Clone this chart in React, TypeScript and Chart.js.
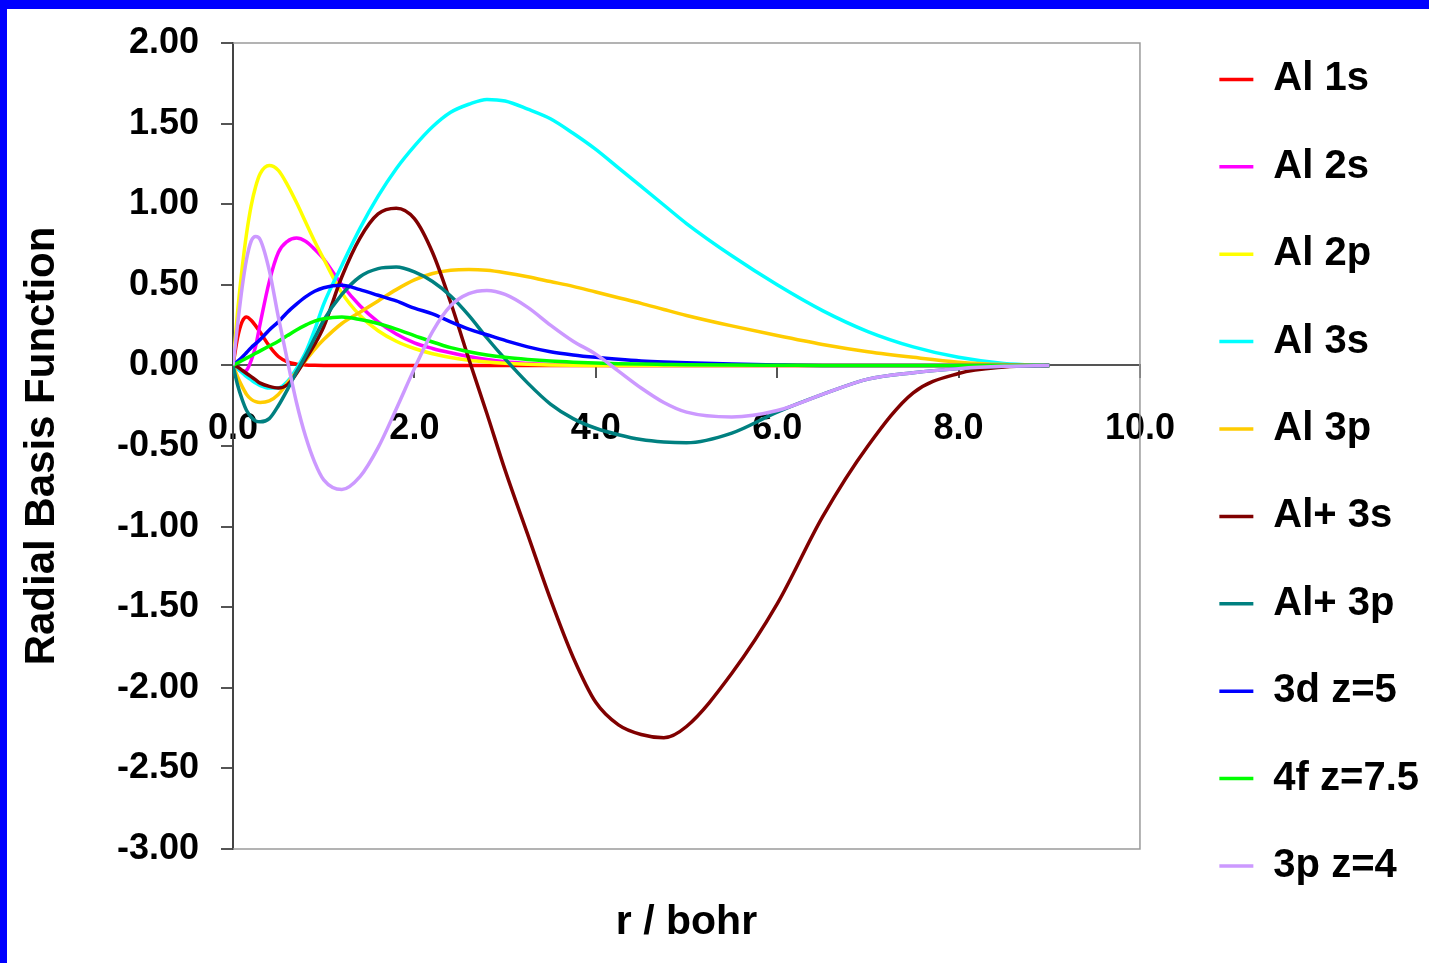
import React, { useEffect, useRef } from 'react';
import { Chart, registerables } from 'chart.js';

Chart.register(...registerables);

// radial distance (bohr)
const R = [0, 0.05, 0.1, 0.15, 0.2, 0.25, 0.3, 0.4, 0.5, 0.6, 0.7, 0.8, 0.9, 1.0, 1.2, 1.4, 1.6, 1.8, 2.0, 2.2, 2.4, 2.6, 2.8, 3.0, 3.25, 3.5, 3.75, 4.0, 4.25, 4.5, 4.75, 5.0, 5.5, 6.0, 6.5, 7.0, 7.5, 8.0, 8.5, 9.0];

const AL_1S = [0, 0.17, 0.27, 0.3, 0.28, 0.245, 0.205, 0.12, 0.055, 0.022, 0.008, 0.003, 0.001, 0, 0, 0, 0, 0, 0, 0, 0, 0, 0, 0, 0, 0, 0, 0, 0, 0, 0, 0, 0, 0, 0, 0, 0, 0, 0, 0];
const AL_2S = [0, -0.02, -0.04, -0.03, 0.03, 0.12, 0.26, 0.52, 0.7, 0.77, 0.79, 0.77, 0.72, 0.66, 0.5, 0.37, 0.27, 0.195, 0.14, 0.105, 0.078, 0.055, 0.036, 0.022, 0.012, 0.006, 0.003, 0.001, 0, 0, 0, 0, 0, 0, 0, 0, 0, 0, 0, 0];
const AL_2P = [0, 0.33, 0.6, 0.82, 0.99, 1.11, 1.19, 1.24, 1.21, 1.12, 1.01, 0.89, 0.77, 0.66, 0.45, 0.31, 0.215, 0.15, 0.105, 0.072, 0.049, 0.032, 0.021, 0.013, 0.007, 0.003, 0.001, 0, 0, 0, 0, 0, 0, 0, 0, 0, 0, 0, 0, 0];
const AL_3S = [0, -0.02, -0.045, -0.07, -0.09, -0.11, -0.125, -0.14, -0.14, -0.1, -0.02, 0.08, 0.22, 0.38, 0.62, 0.85, 1.05, 1.22, 1.36, 1.48, 1.57, 1.62, 1.65, 1.64, 1.59, 1.53, 1.44, 1.34, 1.225, 1.11, 0.995, 0.88, 0.68, 0.5, 0.34, 0.21, 0.115, 0.05, 0.012, 0];
const AL_3P = [0, -0.07, -0.13, -0.18, -0.21, -0.225, -0.23, -0.22, -0.18, -0.11, -0.04, 0.03, 0.1, 0.16, 0.26, 0.33, 0.4, 0.47, 0.53, 0.57, 0.59, 0.595, 0.59, 0.575, 0.55, 0.52, 0.49, 0.455, 0.42, 0.385, 0.347, 0.31, 0.245, 0.185, 0.13, 0.085, 0.05, 0.02, 0.005, 0];
const ALP_3S = [0, -0.01, -0.03, -0.05, -0.07, -0.09, -0.11, -0.13, -0.14, -0.12, -0.05, 0.04, 0.13, 0.24, 0.55, 0.79, 0.94, 0.975, 0.91, 0.7, 0.39, 0.04, -0.3, -0.65, -1.05, -1.45, -1.81, -2.09, -2.23, -2.29, -2.31, -2.24, -1.91, -1.48, -0.94, -0.5, -0.17, -0.05, -0.01, 0];
const ALP_3P = [0, -0.12, -0.21, -0.28, -0.32, -0.345, -0.35, -0.33, -0.25, -0.15, -0.04, 0.06, 0.17, 0.28, 0.44, 0.55, 0.6, 0.61, 0.58, 0.52, 0.43, 0.31, 0.17, 0.04, -0.11, -0.24, -0.33, -0.39, -0.43, -0.46, -0.475, -0.48, -0.42, -0.29, -0.18, -0.085, -0.045, -0.02, -0.006, 0];
const D3_Z5 = [0, 0.025, 0.05, 0.08, 0.11, 0.135, 0.16, 0.22, 0.27, 0.33, 0.38, 0.425, 0.46, 0.482, 0.497, 0.47, 0.435, 0.4, 0.355, 0.32, 0.27, 0.225, 0.19, 0.155, 0.115, 0.085, 0.065, 0.05, 0.038, 0.028, 0.021, 0.016, 0.008, 0.003, 0, 0, 0, 0, 0, 0];
const F4_Z75 = [0, 0.015, 0.03, 0.045, 0.06, 0.075, 0.09, 0.12, 0.15, 0.185, 0.22, 0.25, 0.275, 0.29, 0.3, 0.285, 0.26, 0.225, 0.185, 0.145, 0.11, 0.085, 0.065, 0.05, 0.037, 0.027, 0.02, 0.015, 0.011, 0.008, 0.006, 0.004, 0.002, 0.001, 0, 0, 0, 0, 0, 0];
const P3_Z4 = [0, 0.25, 0.48, 0.66, 0.77, 0.8, 0.78, 0.59, 0.3, 0.03, -0.23, -0.44, -0.6, -0.71, -0.77, -0.69, -0.51, -0.27, -0.02, 0.21, 0.37, 0.445, 0.465, 0.44, 0.36, 0.25, 0.15, 0.07, -0.035, -0.14, -0.23, -0.29, -0.32, -0.28, -0.18, -0.085, -0.045, -0.02, -0.006, 0];

const SERIES_NAMES = ['Al 1s', 'Al 2s', 'Al 2p', 'Al 3s', 'Al 3p', 'Al+ 3s', 'Al+ 3p', '3d z=5', '4f z=7.5', '3p z=4'];
const SERIES_VALUES = [AL_1S, AL_2S, AL_2P, AL_3S, AL_3P, ALP_3S, ALP_3P, D3_Z5, F4_Z75, P3_Z4];
const SERIES_COLORS = ['#FF0000', '#FF00FF', '#FFFF00', '#00FFFF', '#FFCC00', '#800000', '#008080', '#0000FF', '#00FF00', '#CC99FF'];

const X_MIN = 0;
const X_MAX = 10;
const X_STEP = 2;
const Y_MIN = -3;
const Y_MAX = 2;
const Y_STEP = 0.5;

const X_TITLE = 'r / bohr';
const Y_TITLE = 'Radial Basis Function';

const FONT = "'Liberation Sans', Arial, Helvetica, sans-serif";

const framePlugin = {
  id: 'plotFrame',
  beforeDatasetsDraw(chart: any) {
    const { ctx, chartArea } = chart;
    const { left, right, top, bottom } = chartArea;
    ctx.save();
    ctx.strokeStyle = '#9a9a9a';
    ctx.lineWidth = 1.5;
    ctx.beginPath();
    ctx.moveTo(left, top);
    ctx.lineTo(right, top);
    ctx.lineTo(right, bottom);
    ctx.lineTo(left, bottom);
    ctx.stroke();
    ctx.restore();
  },
};

const noPad = (s: any) => {
  s.paddingTop = 0;
  s.paddingBottom = 0;
  s.paddingLeft = 0;
  s.paddingRight = 0;
};

export default function App() {
  const canvasRef = useRef<HTMLCanvasElement | null>(null);

  useEffect(() => {
    const canvas = canvasRef.current;
    if (!canvas) return;
    Chart.defaults.font.family = FONT;
    Chart.defaults.color = '#000';

    const n = SERIES_NAMES.length;
    const datasets = SERIES_NAMES.map((name, i) => ({
      label: name,
      data: R.map((r, k) => ({ x: r, y: SERIES_VALUES[i][k] })),
      borderColor: SERIES_COLORS[i],
      backgroundColor: SERIES_COLORS[i],
      borderWidth: 3.5,
      pointRadius: 0,
      pointHoverRadius: 0,
      fill: false,
      cubicInterpolationMode: 'monotone' as const,
      order: n - 1 - i,
    }));

    const chart = new Chart(canvas, {
      type: 'line',
      data: { datasets },
      plugins: [framePlugin],
      options: {
        responsive: false,
        animation: false,
        devicePixelRatio: 1,
        layout: { padding: { top: 3, left: 0, right: 0, bottom: 0 }, autoPadding: false },
        events: [],
        plugins: {
          tooltip: { enabled: false },
          title: { display: false },
          legend: {
            display: true,
            position: 'right',
            align: 'start',
            maxWidth: 400,
            labels: {
              boxWidth: 34,
              boxHeight: 0,
              padding: 47.4,
              color: '#000',
              font: { size: 40, weight: 'bold', family: FONT },
              sort: (a: any, b: any) => a.datasetIndex - b.datasetIndex,
            },
          },
        },
        scales: {
          x: {
            type: 'linear',
            position: 'bottom',
            min: X_MIN,
            max: X_MAX,
            grid: { display: false },
            border: { display: false },
            ticks: { display: false },
            title: {
              display: true,
              text: X_TITLE,
              color: '#000',
              font: { size: 41, weight: 'bold', family: FONT },
              padding: { top: 0, bottom: 16 },
            },
            afterFit: (s: any) => { s.height = 114; noPad(s); },
          },
          x2: {
            type: 'linear',
            axis: 'x',
            position: { y: 0 },
            min: X_MIN,
            max: X_MAX,
            grid: { display: true, drawOnChartArea: false, drawTicks: true, tickLength: 12, color: '#555', lineWidth: 2 },
            border: { display: true, color: '#555', width: 2 },
            ticks: {
              stepSize: X_STEP,
              autoSkip: false,
              maxRotation: 0,
              minRotation: 0,
              padding: 30,
              color: '#000',
              font: { size: 36, weight: 'bold', family: FONT },
              callback: (v: any) => Number(v).toFixed(1),
            },
            afterFit: (s: any) => { s.height = 0; noPad(s); },
          },
          xTop: {
            type: 'linear',
            axis: 'x',
            position: 'top',
            min: X_MIN,
            max: X_MAX,
            grid: { display: false },
            border: { display: false },
            ticks: { display: false },
            afterFit: (s: any) => { s.height = 31; noPad(s); },
          },
          y: {
            type: 'linear',
            position: 'left',
            min: Y_MIN,
            max: Y_MAX,
            grid: { display: true, drawOnChartArea: false, drawTicks: true, tickLength: 12, color: '#555', lineWidth: 2 },
            border: { display: true, color: '#444', width: 2 },
            ticks: {
              stepSize: Y_STEP,
              autoSkip: false,
              padding: 22,
              color: '#000',
              font: { size: 36, weight: 'bold', family: FONT },
              callback: (v: any) => Number(v).toFixed(2),
            },
            title: {
              display: true,
              text: Y_TITLE,
              color: '#000',
              font: { size: 42, weight: 'bold', family: FONT },
              padding: { top: 10, bottom: 0 },
            },
            afterFit: (s: any) => { s.width = 226; noPad(s); },
          },
          yRight: {
            type: 'linear',
            axis: 'y',
            position: 'right',
            min: Y_MIN,
            max: Y_MAX,
            grid: { display: false },
            border: { display: false },
            ticks: { display: false },
            afterFit: (s: any) => { s.width = 32; noPad(s); },
          },
        },
      } as any,
    });

    return () => {
      chart.destroy();
    };
  }, []);

  return (
    <div
      style={{
        position: 'fixed',
        left: 0,
        top: 0,
        width: 1429,
        height: 963,
        boxSizing: 'border-box',
        background: '#ffffff',
        borderTop: '9px solid #0000FF',
        borderLeft: '7px solid #0000FF',
        overflow: 'hidden',
      }}
    >
      <canvas ref={canvasRef} width={1422} height={954} style={{ display: 'block', width: 1422, height: 954 }} />
    </div>
  );
}
